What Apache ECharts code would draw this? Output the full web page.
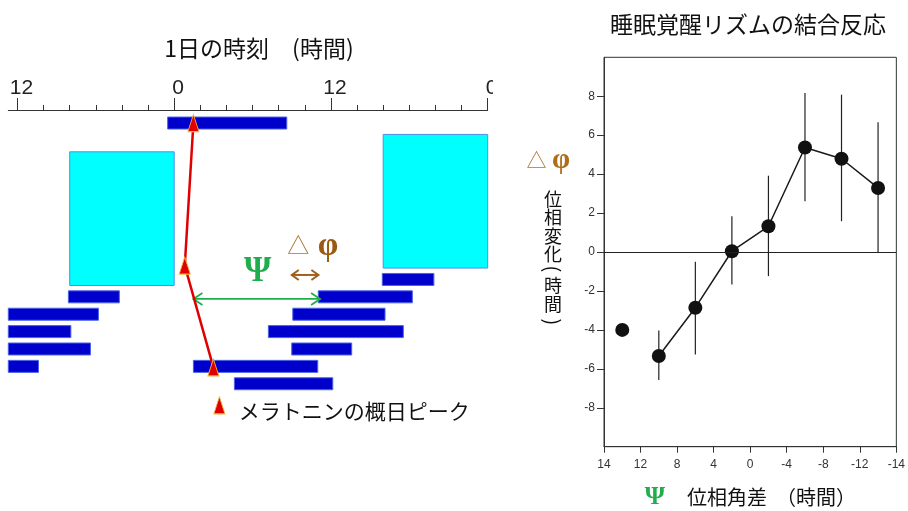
<!DOCTYPE html>
<html>
<head>
<meta charset="utf-8">
<script src="https://cdn.jsdelivr.net/npm/echarts@6/dist/echarts.min.js"></script>
<style>
  html, body { margin: 0; padding: 0; background: #fff; }
  #phase { position: absolute; left: 0; top: 0; width: 908px; height: 511px; }
  #actoClip { position: absolute; left: 0; top: 0; width: 493px; height: 511px; overflow: hidden; }
  #acto { width: 540px; height: 511px; }
</style>
</head>
<body>
<div id="phase"></div>
<div id="actoClip"><div id="acto"></div></div>
<script>
// ---------- Actogram (double-plotted, hours; -12..0 is the previous day's 12..24) ----------
const timeMajorTicks = [-12, 0, 12, 24];
const timeMajorLabels = ['12', '0', '12', '0'];
const timeMinorTicks = [-12, -10, -8, -6, -4, -2, 0, 2, 4, 6, 8, 10, 12, 14, 16, 18, 20, 22, 24];

// sleep episodes: row (day), start hour, end hour
const sleepRow   = [0,    9,     10,   10,    11,  11,    12,    12,    13,    13,    14,     14,    15];
const sleepStart = [-0.5, 15.93, -8.1, 11.03, -13, 9.08,  -15,   7.21,  -16,   9.0,   -15,    1.47,  4.61];
const sleepEnd   = [8.62, 19.88, -4.2, 18.23, -5.8, 16.14, -7.91, 17.54, -6.41, 13.59, -10.39, 10.99, 12.14];

// light-exposure blocks: first row, last row, start hour, end hour
const lightRowFrom = [2, 1];
const lightRowTo   = [9, 8];
const lightStart   = [-8, 16];
const lightEnd     = [0, 24];

// circadian melatonin peaks
const melatoninHour = [1.47, 0.81, 3.0];
const melatoninRow  = [0, 8.2, 14.06];

// ---------- Phase response of the sleep-wake rhythm ----------
const psiTickValues = [16, 12, 8, 4, 0, -4, -8, -12, -16];
const psiTickLabels = ['14', '12', '8', '4', '0', '-4', '-8', '-12', '-14'];
const dphiTicks = [-8, -6, -4, -2, 0, 2, 4, 6, 8];

const psi      = [10, 6, 2, -2, -6, -10, -14];
const dphi     = [-5.34, -2.86, 0.04, 1.32, 5.37, 4.79, 3.29];
const dphiHigh = [-4.03, -0.50, 1.84, 3.92, 8.16, 8.08, 6.66];
const dphiLow  = [-6.57, -5.26, -1.67, -1.24, 2.61, 1.58, 0.0];
const isolatedPsi  = [14];
const isolatedDphi = [-4.0];

const JP = '"Noto Sans CJK JP"';
const BAR_HALF = 0.345;   // half bar height in rows
const BLUE = '#0000cc';
const RED = '#e00000';
const GREEN = '#1fae4b';
const BROWN = '#a0601a';

function clipToGrid(rect, params) {
  const c = params.coordSys;
  return echarts.graphic.clipRectByRect(rect, { x: c.x, y: c.y, width: c.width, height: c.height });
}

// annotation arrows: x from, x to, row, colour index
const arrowFrom = [1.47, 9.0];
const arrowTo   = [11.17, 11.04];
const arrowRow  = [10.12, 8.74];
const arrowColor = [GREEN, BROWN];
const arrowHead = [[9, 6], [7, 5]];
const arrowWidth = [1.8, 2];

// annotation texts
const noteText  = ['Ψ', '△', 'φ', 'メラトニンの概日ピーク'];
const noteHour  = [6.38, 9.5, 11.78, 4.95];
const noteRow   = [8.54, 7.02, 7.1, 16.56];
const noteColor = [GREEN, '#a8732f', '#9a5a12', '#111'];
const noteFont  = ['bold 35px "Liberation Serif"', '22px ' + JP, 'bold 33px "Liberation Serif"', '21px ' + JP];
const noteAlign = ['center', 'center', 'center', 'left'];

const acto = echarts.init(document.getElementById('acto'), null, { renderer: 'canvas' });
acto.setOption({
  animation: false,
  graphic: [{
    type: 'text', x: 259, y: 48,
    style: { text: '1日の時刻\u3000(時間)', font: '23px ' + JP, fill: '#111', align: 'center', verticalAlign: 'middle' }
  }],
  grid: { left: 8.3, right: 52.3, top: 110, bottom: 83.8 },
  xAxis: [{
    type: 'value', position: 'top', min: -12.7, max: 24,
    axisLine: { show: true, onZero: false, lineStyle: { color: '#333', width: 1 } },
    axisTick: { show: true, customValues: timeMinorTicks, length: 5, lineStyle: { color: '#333', width: 1 } },
    axisLabel: { show: false }, splitLine: { show: false }
  }, {
    type: 'value', position: 'top', min: -12.7, max: 24,
    axisLine: { show: false, onZero: false },
    axisTick: { show: true, customValues: timeMajorTicks, length: 12, lineStyle: { color: '#333', width: 1 } },
    axisLabel: {
      show: true, customValues: timeMajorTicks, margin: 11, padding: [0, 0, 0, 8],
      formatter: v => timeMajorLabels[timeMajorTicks.indexOf(v)],
      fontFamily: '"Liberation Sans"', fontSize: 21, color: '#222'
    },
    splitLine: { show: false }
  }],
  yAxis: { type: 'value', min: -0.75, max: 17.5, inverse: true, show: false },
  series: [{
    name: 'light', type: 'custom', z: 1,
    data: lightRowFrom.map((r, i) => [lightStart[i], lightEnd[i], r, lightRowTo[i]]),
    encode: { x: [0, 1], y: [2, 3] },
    renderItem: (params, api) => {
      const p0 = api.coord([api.value(0), api.value(2) - BAR_HALF]);
      const p1 = api.coord([api.value(1), api.value(3) + BAR_HALF]);
      const rect = clipToGrid({ x: p0[0], y: p0[1], width: p1[0] - p0[0], height: p1[1] - p0[1] }, params);
      return rect && { type: 'rect', shape: rect, style: { fill: '#00ffff', stroke: '#4f8fe8', lineWidth: 1 } };
    }
  }, {
    name: 'sleep', type: 'custom', z: 2,
    data: sleepRow.map((r, i) => [r, sleepStart[i], sleepEnd[i]]),
    encode: { x: [1, 2], y: 0 },
    renderItem: (params, api) => {
      const row = api.value(0);
      const p0 = api.coord([api.value(1), row - BAR_HALF]);
      const p1 = api.coord([api.value(2), row + BAR_HALF]);
      const rect = clipToGrid({ x: p0[0], y: p0[1], width: p1[0] - p0[0], height: p1[1] - p0[1] }, params);
      return rect && { type: 'rect', shape: rect, style: { fill: BLUE, stroke: '#4a63e6', lineWidth: 1 } };
    }
  }, {
    name: 'arrows', type: 'custom', z: 3,
    data: arrowRow.map((r, i) => [arrowFrom[i], arrowTo[i], r, i]),
    encode: { x: [0, 1], y: 2 },
    renderItem: (params, api) => {
      const i = api.value(3);
      const a = api.coord([api.value(0), api.value(2)]);
      const b = api.coord([api.value(1), api.value(2)]);
      const [hl, hs] = arrowHead[i];
      const st = { stroke: arrowColor[i], lineWidth: arrowWidth[i], fill: null };
      return {
        type: 'group', children: [
          { type: 'line', shape: { x1: a[0], y1: a[1], x2: b[0], y2: b[1] }, style: st },
          { type: 'polyline', shape: { points: [[a[0] + hl, a[1] - hs], [a[0], a[1]], [a[0] + hl, a[1] + hs]] }, style: st },
          { type: 'polyline', shape: { points: [[b[0] - hl, b[1] - hs], [b[0], b[1]], [b[0] - hl, b[1] + hs]] }, style: st }
        ]
      };
    }
  }, {
    name: 'melatonin', type: 'line', z: 4,
    data: melatoninHour.map((h, i) => [h, melatoninRow[i]]),
    lineStyle: { color: RED, width: 2.5 },
    symbol: 'triangle', symbolSize: [11, 17],
    itemStyle: { color: RED, borderColor: '#f5b335', borderWidth: 1 }
  }, {
    name: 'melatonin-key', type: 'scatter', z: 4,
    data: [[3.46, 16.24]],
    symbol: 'triangle', symbolSize: [11, 17],
    itemStyle: { color: RED, borderColor: '#f5b335', borderWidth: 1, opacity: 1 }
  }, {
    name: 'notes', type: 'custom', z: 5,
    data: noteHour.map((h, i) => [h, noteRow[i], i]),
    encode: { x: 0, y: 1 },
    renderItem: (params, api) => {
      const i = api.value(2);
      const p = api.coord([api.value(0), api.value(1)]);
      return {
        type: 'text', x: p[0], y: p[1],
        style: { text: noteText[i], fill: noteColor[i], font: noteFont[i], align: noteAlign[i], verticalAlign: 'middle' }
      };
    }
  }]
});

// vertical y-axis title: upright characters, parentheses turned sideways
const vLabelChars = ['位', '相', '変', '化', '(', '時', '間', ')'];
const vLabelY     = [199, 217.5, 236, 254.5, 269, 285, 304.5, 322];
const vLabel = vLabelChars.map((ch, i) => {
  const turned = (ch === '(' || ch === ')');
  return {
    type: 'text', x: 553, y: vLabelY[i],
    rotation: turned ? -Math.PI / 2 : 0,
    style: { text: ch, font: (turned ? '20px ' : '18px ') + JP, fill: '#111', align: 'center', verticalAlign: 'middle' }
  };
});

const phase = echarts.init(document.getElementById('phase'), null, { renderer: 'canvas' });
phase.setOption({
  animation: false,
  graphic: [
    { type: 'text', x: 748, y: 24, style: { text: '睡眠覚醒リズムの結合反応', font: '23px ' + JP, fill: '#111', align: 'center', verticalAlign: 'middle' } },
    { type: 'text', x: 536.5, y: 160, style: { text: '△', font: '20px ' + JP, fill: '#a9732f', align: 'center', verticalAlign: 'middle' } },
    { type: 'text', x: 561, y: 161, style: { text: 'φ', font: 'bold 29px "Liberation Serif"', fill: '#b06d16', align: 'center', verticalAlign: 'middle' } },
    ...vLabel,
    { type: 'text', x: 655, y: 497, style: { text: 'Ψ', font: 'bold 26px "Liberation Serif"', fill: GREEN, align: 'center', verticalAlign: 'middle' } },
    { type: 'text', x: 687, y: 497, style: { text: '位相角差  （時間）', font: '20px ' + JP, fill: '#111', align: 'left', verticalAlign: 'middle' } }
  ],
  grid: { left: 604, right: 8, top: 57.3, bottom: 64.3, show: true, borderColor: '#333', borderWidth: 1, backgroundColor: 'transparent' },
  xAxis: {
    type: 'value', min: -16, max: 16, interval: 4, inverse: true,
    axisLine: { onZero: false, lineStyle: { color: '#333', width: 1 } },
    axisTick: { show: true, length: 6, lineStyle: { color: '#333' } },
    axisLabel: {
      margin: 12, fontSize: 12, color: '#333', fontFamily: '"Liberation Sans"',
      formatter: v => psiTickLabels[psiTickValues.indexOf(v)]
    },
    splitLine: { show: false }
  },
  yAxis: {
    type: 'value', min: -10, max: 10,
    axisLine: { onZero: false, lineStyle: { color: '#333', width: 1 } },
    axisTick: { show: true, customValues: dphiTicks, length: 7, lineStyle: { color: '#333' } },
    axisLabel: { customValues: dphiTicks, margin: 9, fontSize: 12, color: '#333', fontFamily: '"Liberation Sans"' },
    splitLine: { show: false }
  },
  series: [{
    name: 'error', type: 'custom', z: 2,
    data: psi.map((x, i) => [x, dphiLow[i], dphiHigh[i]]),
    encode: { x: 0, y: [1, 2] },
    renderItem: (params, api) => {
      const a = api.coord([api.value(0), api.value(1)]);
      const b = api.coord([api.value(0), api.value(2)]);
      return { type: 'line', shape: { x1: a[0], y1: a[1], x2: b[0], y2: b[1] }, style: { stroke: '#222', lineWidth: 1.2 } };
    }
  }, {
    name: 'dphi', type: 'line', z: 3,
    data: psi.map((x, i) => [x, dphi[i]]),
    lineStyle: { color: '#1a1a1a', width: 1.5 },
    symbol: 'circle', symbolSize: 14,
    itemStyle: { color: '#111' },
    markLine: {
      silent: true, symbol: 'none', label: { show: false },
      lineStyle: { color: '#222', type: 'solid', width: 1 },
      data: [{ yAxis: 0 }]
    }
  }, {
    name: 'isolated', type: 'scatter', z: 3,
    data: isolatedPsi.map((x, i) => [x, isolatedDphi[i]]),
    symbol: 'circle', symbolSize: 14,
    itemStyle: { color: '#111', opacity: 1 }
  }]
});
</script>
</body>
</html>
